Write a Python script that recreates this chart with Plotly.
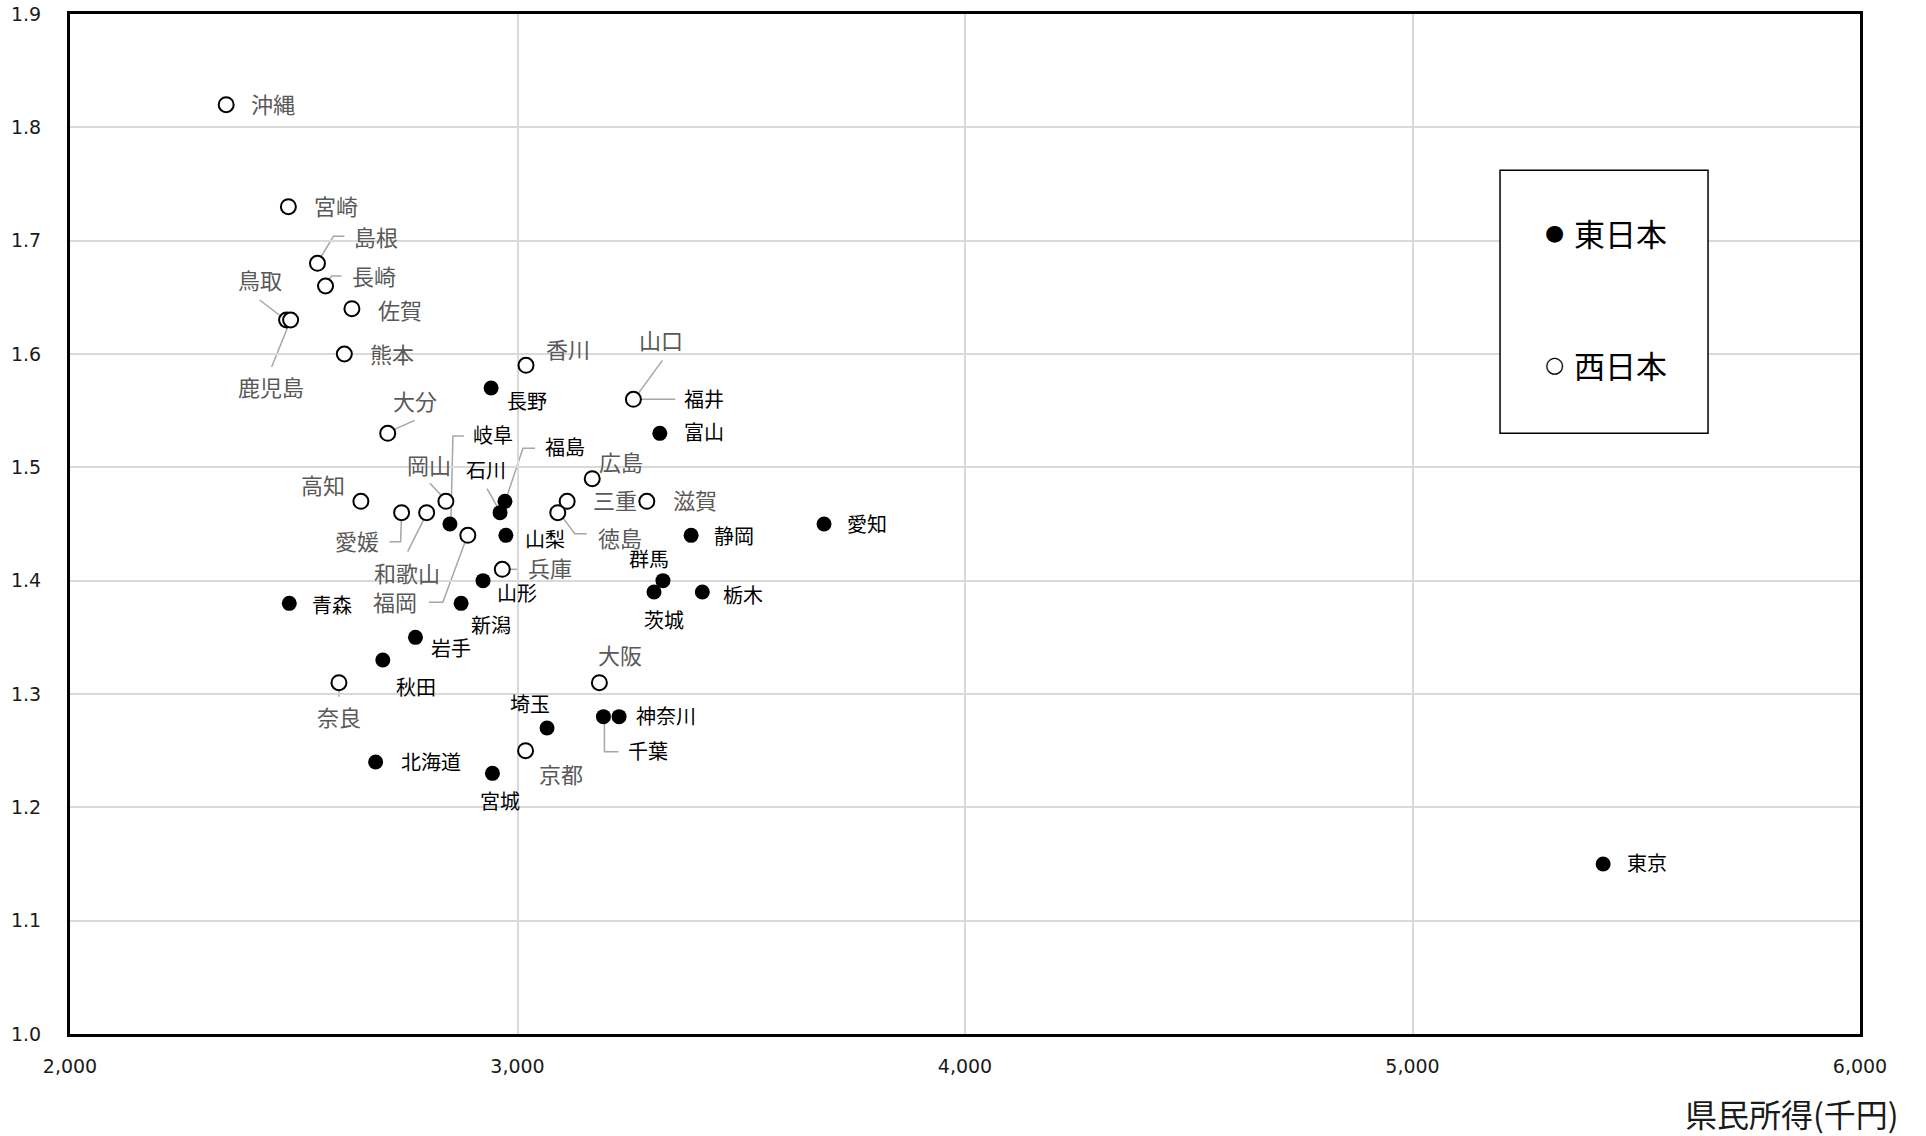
import plotly.graph_objects as go

# ---------------- data ----------------
east_names = ["長野", "富山", "福井", "岐阜", "福島", "石川", "山梨", "青森", "山形", "新潟",
              "岩手", "秋田", "埼玉", "千葉", "神奈川", "北海道", "宮城", "群馬", "茨城", "栃木",
              "静岡", "愛知", "東京"]
east_income = [2941, 3318, 3259, 2849, 2972, 2961, 2974, 2490, 2923, 2874,
               2772, 2699, 3066, 3192, 3227, 2683, 2944, 3325, 3305, 3413,
               3388, 3685, 5426]
east_ratio = [1.57, 1.53, 1.56, 1.45, 1.47, 1.46, 1.44, 1.38, 1.40, 1.38,
              1.35, 1.33, 1.27, 1.28, 1.28, 1.24, 1.23, 1.40, 1.39, 1.39,
              1.44, 1.45, 1.15]

west_names = ["沖縄", "宮崎", "島根", "長崎", "佐賀", "鳥取", "鹿児島", "熊本", "香川", "山口",
              "大分", "広島", "高知", "岡山", "三重", "滋賀", "徳島", "愛媛", "和歌山", "福岡",
              "兵庫", "奈良", "大阪", "京都"]
west_income = [2349, 2488, 2553, 2571, 2630, 2484, 2493, 2613, 3019, 3259,
               2710, 3167, 2650, 2840, 3111, 3289, 3090, 2741, 2797, 2889,
               2966, 2601, 3183, 3018]
west_ratio = [1.82, 1.73, 1.68, 1.66, 1.64, 1.63, 1.63, 1.60, 1.59, 1.56,
              1.53, 1.49, 1.47, 1.47, 1.47, 1.47, 1.46, 1.46, 1.46, 1.44,
              1.41, 1.31, 1.31, 1.25]

x_ticks = [2000, 3000, 4000, 5000, 6000]
y_ticks = [1.0, 1.1, 1.2, 1.3, 1.4, 1.5, 1.6, 1.7, 1.8, 1.9]
x_title = "県民所得(千円)"
legend_labels = ["東日本", "西日本"]

# ---------------- label layout (screen px offsets, dy downward) ----------------
label_offset = {
    "沖縄": (47, 0), "宮崎": (48, 0), "島根": (59, -25), "長崎": (48, -9), "佐賀": (48, 2),
    "鳥取": (-27, -39), "鹿児島": (-20, 68), "熊本": (48, 1), "香川": (42, -15),
    "山口": (28, -58), "大分": (27, -31), "広島": (29, -16), "高知": (-38, -15),
    "岡山": (-17, -35), "三重": (48, 0), "滋賀": (48, 0), "徳島": (62, 26), "愛媛": (-45, 29),
    "和歌山": (-20, 61), "福岡": (-73, 68), "兵庫": (48, 0), "奈良": (0, 35), "大阪": (21, -27),
    "京都": (35, 24),
    "長野": (36, 14), "富山": (44, 0), "福井": (71, 1), "岐阜": (43, -88), "福島": (60, -53),
    "石川": (-14, -41), "山梨": (39, 5), "青森": (43, 3), "山形": (34, 14), "新潟": (30, 23),
    "岩手": (36, 12), "秋田": (33, 28), "埼玉": (-17, -23), "千葉": (45, 36), "神奈川": (47, 1),
    "北海道": (55, 1), "宮城": (8, 29), "群馬": (-14, -20), "茨城": (10, 29), "栃木": (41, 4),
    "静岡": (43, 2), "愛知": (43, 1), "東京": (44, 0),
}
LABEL_BASELINE_FIX = 2  # CJK glyphs sit a little low when centred
leaders = {
    "島根": [(2, -4), (16, -27), (27, -27)],
    "長崎": [(1, -3), (6, -10), (16, -10)],
    "鳥取": [(-2, -1), (-27, -20)],
    "鹿児島": [(0, 0), (-19, 47)],
    "山口": [(2, -2), (29, -39)],
    "福井": [(5, 0), (42, 0)],
    "大分": [(2, -2), (27, -13)],
    "岐阜": [(1, -4), (3, -88), (14, -88)],
    "福島": [(1, -2), (18, -53), (30, -53)],
    "岡山": [(-1, -2), (-16, -18)],
    "石川": [(0, -1), (-13, -24)],
    "徳島": [(2, 1), (17, 21), (29, 21)],
    "愛媛": [(0, 1), (-1, 29), (-12, 29)],
    "和歌山": [(0, 1), (-19, 39)],
    "福岡": [(-1, 2), (-25, 67), (-39, 67)],
    "兵庫": [(4, 0), (16, 0)],
    "奈良": [(0, 4), (0, 14)],
    "千葉": [(1, 3), (1, 35), (15, 35)],
}

CJK = "Noto Sans CJK JP"
GRID = "#d9d9d9"

fig = go.Figure()
fig.add_trace(go.Scatter(
    x=east_income, y=east_ratio, mode="markers", name=legend_labels[0],
    marker=dict(symbol="circle", size=15, color="black", line=dict(width=0)),
    hoverinfo="skip"))
fig.add_trace(go.Scatter(
    x=west_income, y=west_ratio, mode="markers", name=legend_labels[1],
    marker=dict(symbol="circle", size=15, color="white", line=dict(width=2, color="black")),
    hoverinfo="skip"))

annotations = []
shapes = []


def add_labels(names, xs, ys, color, size):
    for n, x, y in zip(names, xs, ys):
        dx, dy = label_offset[n]
        annotations.append(dict(
            x=x, y=y, xref="x", yref="y", text=n, showarrow=False,
            xshift=dx, yshift=-dy + LABEL_BASELINE_FIX, xanchor="center", yanchor="middle",
            font=dict(family=CJK, size=size, color=color)))
        if n in leaders:
            pts = leaders[n]
            path = "M " + " L ".join(f"{px},{-py}" for px, py in pts)
            shapes.append(dict(
                type="path", xref="x", yref="y", xsizemode="pixel", ysizemode="pixel",
                xanchor=x, yanchor=y, path=path,
                line=dict(color="#a6a6a6", width=1.5), layer="below"))


add_labels(east_names, east_income, east_ratio, "#000000", 20)
add_labels(west_names, west_income, west_ratio, "#595959", 22)

# x axis title at bottom right
annotations.append(dict(
    x=1.0229, y=-0.077, xref="paper", yref="paper", text=x_title, showarrow=False,
    xanchor="right", yanchor="middle", font=dict(family=CJK, size=32, color="#1a1a1a")))

# legend box (drawn manually)
shapes.append(dict(type="rect", xref="paper", yref="paper", x0=0.7989, x1=0.9151,
                   y0=0.5889, y1=0.8467, line=dict(color="black", width=1.5),
                   fillcolor="white", layer="above"))
for sym, lab, yy in [("●", legend_labels[0], 0.7855), ("○", legend_labels[1], 0.6561)]:
    annotations.append(dict(x=0.8296, y=yy, xref="paper", yref="paper", text=sym,
                            showarrow=False, xanchor="center", yanchor="middle",
                            font=dict(family="DejaVu Sans", size=22, color="black")))
    annotations.append(dict(x=0.8390, y=yy, xref="paper", yref="paper", text=lab,
                            showarrow=False, xanchor="left", yanchor="middle",
                            font=dict(family=CJK, size=31, color="black")))

axis_common = dict(
    showgrid=True, gridcolor=GRID, gridwidth=1.5,
    showline=True, linecolor="black", linewidth=3, mirror=True,
    tickcolor="rgba(0,0,0,0)", ticks="outside",
    tickfont=dict(family="DejaVu Sans", size=19, color="#1a1a1a"),
    zeroline=False, automargin=False, ticklabeloverflow="allow",
)

fig.update_layout(
    width=1926, height=1136,
    margin=dict(l=70, r=66, t=14, b=102, autoexpand=False),
    paper_bgcolor="white", plot_bgcolor="white",
    showlegend=False,
    annotations=annotations, shapes=shapes,
    xaxis=dict(range=[2000, 6000], tickvals=x_ticks, tickformat=",d", ticklen=13, **axis_common),
    yaxis=dict(range=[1.0, 1.9], tickvals=y_ticks, tickformat=".1f", ticklen=22, **axis_common),
)

# remove the browser's default 8px body margin so the figure fills the window exactly
fig.write_html("out.html", config={"displayModeBar": False},
               post_script="document.body.style.margin='0px';")
